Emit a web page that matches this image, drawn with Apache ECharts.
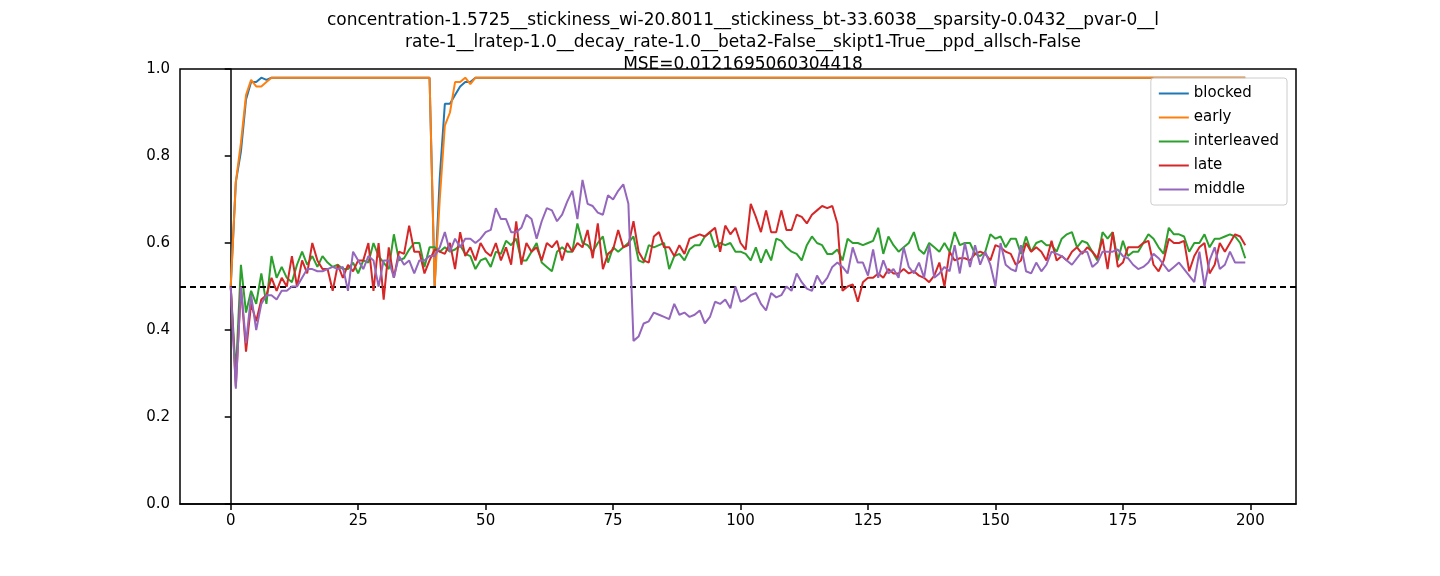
<!DOCTYPE html>
<html><head><meta charset="utf-8">
<script src="https://cdn.jsdelivr.net/npm/echarts@6/dist/echarts.min.js"></script>
<style>html,body{margin:0;padding:0;background:#fff}#c{width:1440px;height:576px}</style>
</head><body><div id="c"></div>
<script>
const titleLines = ["concentration-1.5725__stickiness_wi-20.8011__stickiness_bt-33.6038__sparsity-0.0432__pvar-0__l","rate-1__lratep-1.0__decay_rate-1.0__beta2-False__skipt1-True__ppd_allsch-False","MSE=0.0121695060304418"];
const xTicks = [0,25,50,75,100,125,150,175,200];
const blockedHead = [0.5,0.74,0.81,0.93,0.97,0.97,0.98,0.975,0.98];
const blockedMid = [0.5,0.75,0.92,0.92,0.94,0.96,0.97,0.97];
const earlyHead = [0.5,0.74,0.83,0.94,0.975,0.96,0.96,0.97,0.98];
const earlyMid = [0.5,0.70,0.87,0.90,0.97,0.97,0.98,0.965];
const middle = [0.5,0.265,0.5,0.37,0.48,0.40,0.46,0.48,0.48,0.47,0.49,0.49,0.50,0.50,0.52,0.54,0.54,0.535,0.535,0.54,
0.545,0.54,0.545,0.49,0.58,0.56,0.54,0.57,0.56,0.5,0.56,0.56,0.52,0.57,0.55,0.56,0.53,0.56,0.56,0.57,
0.57,0.59,0.625,0.58,0.61,0.59,0.61,0.61,0.60,0.61,0.625,0.63,0.68,0.655,0.655,0.625,0.625,0.635,0.665,0.655,
0.61,0.65,0.68,0.675,0.65,0.665,0.695,0.72,0.655,0.745,0.69,0.685,0.67,0.665,0.71,0.7,0.72,0.735,0.69,0.375,
0.385,0.415,0.42,0.44,0.435,0.43,0.425,0.46,0.435,0.44,0.43,0.435,0.445,0.415,0.43,0.465,0.46,0.47,0.45,0.5,
0.465,0.47,0.48,0.485,0.46,0.445,0.485,0.475,0.48,0.5,0.49,0.53,0.51,0.495,0.49,0.525,0.505,0.52,0.545,0.555,
0.545,0.53,0.59,0.555,0.555,0.525,0.585,0.52,0.56,0.53,0.54,0.52,0.59,0.545,0.53,0.555,0.52,0.595,0.52,0.53,
0.545,0.535,0.595,0.53,0.6,0.545,0.595,0.55,0.58,0.55,0.5,0.6,0.55,0.54,0.535,0.595,0.535,0.53,0.555,0.535,
0.55,0.58,0.575,0.57,0.56,0.55,0.565,0.58,0.58,0.545,0.555,0.58,0.58,0.58,0.585,0.57,0.565,0.55,0.54,0.545,
0.555,0.575,0.565,0.55,0.535,0.545,0.555,0.54,0.525,0.51,0.58,0.5,0.56,0.59,0.54,0.55,0.58,0.555,0.555,0.555];
const late = [0.5,0.27,0.5,0.35,0.46,0.42,0.47,0.48,0.52,0.49,0.52,0.5,0.57,0.5,0.56,0.53,0.6,0.56,0.54,0.54,
0.49,0.55,0.52,0.55,0.535,0.56,0.56,0.6,0.49,0.6,0.47,0.59,0.52,0.58,0.575,0.64,0.58,0.58,0.53,0.56,
0.585,0.58,0.575,0.6,0.54,0.625,0.57,0.59,0.56,0.6,0.58,0.57,0.6,0.56,0.59,0.55,0.65,0.55,0.6,0.58,
0.59,0.56,0.6,0.59,0.605,0.56,0.6,0.58,0.6,0.59,0.63,0.565,0.645,0.54,0.575,0.585,0.63,0.59,0.595,0.65,
0.58,0.56,0.555,0.615,0.625,0.59,0.59,0.57,0.595,0.575,0.61,0.615,0.62,0.615,0.625,0.635,0.58,0.64,0.62,0.635,
0.6,0.585,0.69,0.66,0.625,0.675,0.625,0.625,0.675,0.63,0.63,0.665,0.66,0.645,0.665,0.675,0.685,0.68,0.685,0.645,
0.49,0.5,0.505,0.465,0.51,0.52,0.52,0.53,0.52,0.54,0.53,0.53,0.54,0.53,0.535,0.525,0.52,0.51,0.525,0.555,
0.5,0.58,0.56,0.565,0.565,0.56,0.575,0.58,0.575,0.56,0.595,0.59,0.58,0.575,0.55,0.56,0.6,0.58,0.59,0.58,
0.56,0.605,0.56,0.57,0.56,0.58,0.59,0.575,0.59,0.58,0.565,0.61,0.54,0.625,0.545,0.555,0.59,0.59,0.59,0.6,
0.605,0.55,0.535,0.56,0.61,0.6,0.6,0.605,0.535,0.57,0.59,0.6,0.53,0.55,0.6,0.58,0.6,0.62,0.615,0.595];
const interleaved = [0.5,0.3,0.55,0.44,0.49,0.46,0.53,0.46,0.57,0.52,0.545,0.52,0.51,0.55,0.58,0.55,0.57,0.545,0.57,0.555,
0.545,0.55,0.54,0.54,0.555,0.53,0.56,0.555,0.6,0.57,0.555,0.54,0.62,0.56,0.565,0.585,0.6,0.6,0.545,0.59,
0.59,0.58,0.59,0.58,0.585,0.595,0.575,0.57,0.54,0.56,0.565,0.545,0.58,0.575,0.605,0.595,0.61,0.56,0.56,0.58,
0.6,0.555,0.545,0.535,0.58,0.59,0.58,0.58,0.645,0.6,0.595,0.58,0.6,0.615,0.555,0.59,0.58,0.59,0.6,0.615,
0.56,0.555,0.595,0.59,0.595,0.6,0.54,0.57,0.575,0.56,0.585,0.595,0.595,0.615,0.625,0.59,0.6,0.595,0.6,0.58,
0.58,0.575,0.56,0.59,0.555,0.585,0.56,0.61,0.605,0.59,0.58,0.575,0.56,0.595,0.615,0.6,0.595,0.575,0.575,0.585,
0.56,0.61,0.6,0.6,0.595,0.6,0.605,0.635,0.575,0.615,0.595,0.58,0.59,0.6,0.625,0.585,0.575,0.6,0.59,0.58,
0.6,0.58,0.625,0.595,0.6,0.6,0.575,0.57,0.58,0.62,0.61,0.615,0.59,0.61,0.61,0.575,0.615,0.58,0.6,0.605,
0.595,0.595,0.58,0.61,0.62,0.625,0.59,0.605,0.6,0.58,0.56,0.625,0.61,0.625,0.56,0.605,0.57,0.58,0.58,0.6,
0.62,0.61,0.59,0.575,0.635,0.62,0.62,0.615,0.58,0.6,0.6,0.62,0.59,0.61,0.61,0.615,0.62,0.615,0.6,0.565];
const N = 200;
function upper(head, mid){const a=[];for(let i=0;i<N;i++){if(i<head.length)a.push(head[i]);else if(i<40)a.push(0.98);else if(i<48)a.push(mid[i-40]);else a.push(0.98);}return a;}
const blocked = upper(blockedHead, blockedMid), early = upper(earlyHead, earlyMid);
const names = ["blocked","early","interleaved","late","middle"];
const colors = ["#1f77b4","#ff7f0e","#2ca02c","#d62728","#9467bd"];
const datas = [blocked, early, interleaved, late, middle];
const chart = echarts.init(document.getElementById('c'));
const series = names.map((n,k)=>({name:n,type:'line',data:datas[k].map((v,i)=>[i,v]),showSymbol:false,symbol:'none',
  lineStyle:{color:colors[k],width:2},itemStyle:{color:colors[k]},z:2+k}));
series[0].markLine = {silent:true,symbol:'none',label:{show:false},lineStyle:{color:'#000',type:[6,4],width:2},data:[{yAxis:0.5}]};
chart.setOption({
  animation:false,
  title:{text:titleLines.join('\n'),left:738,textAlign:'center',top:5,textStyle:{fontFamily:'DejaVu Sans',fontSize:17,fontWeight:'normal',color:'#000',lineHeight:22}},
  grid:{left:180,right:144,top:69,bottom:72},
  legend:{orient:'vertical',right:153,top:78,itemWidth:30,itemHeight:2,itemGap:9,padding:[8,8,8,8],
    borderColor:'#ccc',borderWidth:1,borderRadius:3,backgroundColor:'rgba(255,255,255,0.8)',icon:'rect',
    textStyle:{fontFamily:'DejaVu Sans',fontSize:15,color:'#000'},data:names},
  xAxis:{type:'value',min:-9.95,max:208.95,interval:25,
    axisLine:{onZero:false,lineStyle:{color:'#000',width:1.5}},axisTick:{length:6,lineStyle:{color:'#000',width:1.5}},
    axisLabel:{fontFamily:'DejaVu Sans',fontSize:15,color:'#000',margin:10,customValues:xTicks},
    axisTick:{customValues:xTicks,length:6,lineStyle:{color:'#000',width:1.5}},splitLine:{show:false}},
  yAxis:{type:'value',min:0,max:1,interval:0.2,
    axisLine:{show:true,lineStyle:{color:'#000',width:1.5}},axisTick:{show:true,length:6,lineStyle:{color:'#000',width:1.5}},
    axisLabel:{fontFamily:'DejaVu Sans',fontSize:15,color:'#000',margin:10,formatter:v=>v.toFixed(1)},splitLine:{show:false}},
  graphic:[{type:'rect',shape:{x:180,y:69,width:1116,height:435},style:{fill:'none',stroke:'#000',lineWidth:1.5},silent:true,z:100}],
  series
});
</script></body></html>
